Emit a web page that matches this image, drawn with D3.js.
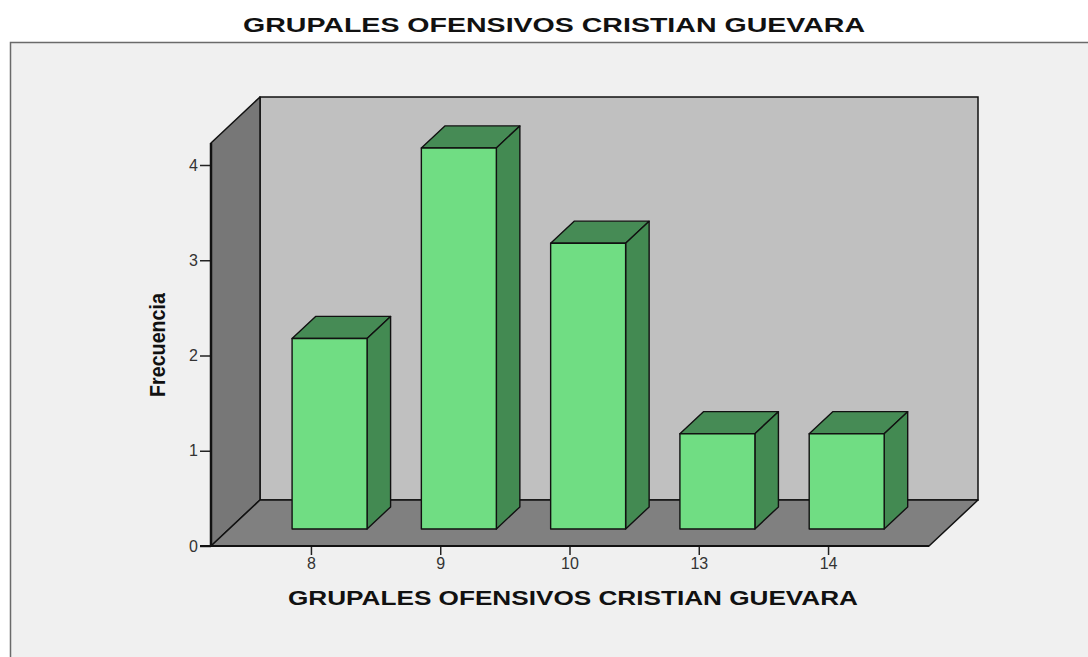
<!DOCTYPE html>
<html>
<head>
<meta charset="utf-8">
<script src="https://cdn.jsdelivr.net/npm/d3@7"></script>
<style>
  html, body { margin: 0; padding: 0; background: #ffffff; }
  svg { display: block; font-family: "Liberation Sans", Arial, sans-serif; }
</style>
</head>
<body>
<div id="chart"></div>
<script>
// datos del gráfico
const categories = ["8", "9", "10", "13", "14"];
const frecuencias = [2, 4, 3, 1, 1];
const yTicks = [0, 1, 2, 3, 4];
const chartTitle = "GRUPALES OFENSIVOS CRISTIAN GUEVARA";
const xTitle = "GRUPALES OFENSIVOS CRISTIAN GUEVARA";
const yTitle = "Frecuencia";

const width = 1088, height = 657;

// plano frontal del gráfico 3D
const front = { left: 211, right: 929, bottom: 546, top: 143 };
const depth = { dx: 49, dy: -46 }; // desplazamiento de la pared del fondo
const barZ0 = 0.37, barZ1 = 0.85;   // profundidad de las barras (fracción)

const svg = d3.select('#chart').append('svg')
  .attr('width', width)
  .attr('height', height)
  .attr('viewBox', `0 0 ${width} ${height}`);

// marco del panel
svg.append('rect')
  .attr('x', 10.5).attr('y', 42.5)
  .attr('width', 1200).attr('height', 800)
  .style('fill', '#f0f0f0')
  .style('stroke', '#6a6a6a')
  .style('stroke-width', 1.5);

// título
svg.append('text')
  .attr('x', 554).attr('y', 32)
  .attr('text-anchor', 'middle')
  .attr('textLength', 622)
  .attr('lengthAdjust', 'spacingAndGlyphs')
  .style('font-size', '21px')
  .style('font-weight', 'bold')
  .style('fill', '#111')
  .text(chartTitle);

const yScale = d3.scaleLinear()
  .domain([0, (front.bottom - front.top) / 95.25])
  .range([front.bottom, front.top]);

const xScale = d3.scaleBand()
  .domain(categories)
  .range([front.left, front.right])
  .paddingInner(0.42)
  .paddingOuter(0.487);

const off = (z) => [depth.dx * z, depth.dy * z];
const pts = (arr) => arr.map((p) => p.join(',')).join(' ');

const [bx, by] = off(1);
const y0 = yScale(0), yTop = yScale.range()[1];

// pared del fondo
svg.append('rect')
  .attr('x', front.left + bx).attr('y', yTop + by)
  .attr('width', front.right - front.left).attr('height', y0 - yTop)
  .style('fill', '#c0c0c0')
  .style('stroke', '#111')
  .style('stroke-width', 1.5);

// pared izquierda
svg.append('polygon')
  .attr('points', pts([
    [front.left, yTop], [front.left + bx, yTop + by],
    [front.left + bx, y0 + by], [front.left, y0]
  ]))
  .style('fill', '#777777')
  .style('stroke', '#111')
  .style('stroke-width', 1.5)
  .style('stroke-linejoin', 'round');

// suelo
svg.append('polygon')
  .attr('points', pts([
    [front.left, y0], [front.right, y0],
    [front.right + bx, y0 + by], [front.left + bx, y0 + by]
  ]))
  .style('fill', '#808080')
  .style('stroke', '#111')
  .style('stroke-width', 1.5)
  .style('stroke-linejoin', 'round');

// barras 3D
const [f0x, f0y] = off(barZ0);
const [f1x, f1y] = off(barZ1);
const bw = xScale.bandwidth();
const bars = svg.append('g').attr('class', 'bars')
  .selectAll('g')
  .data(categories.map((c, i) => ({ cat: c, value: frecuencias[i] })))
  .join('g')
  .style('stroke', '#111')
  .style('stroke-width', 1.4)
  .style('stroke-linejoin', 'round');

bars.append('polygon') // cara superior
  .attr('points', (d) => {
    const x = xScale(d.cat) + f0x, y = yScale(d.value) + f0y;
    const ddx = f1x - f0x, ddy = f1y - f0y;
    return pts([[x, y], [x + bw, y], [x + bw + ddx, y + ddy], [x + ddx, y + ddy]]);
  })
  .style('fill', '#468b55');

bars.append('polygon') // cara lateral
  .attr('points', (d) => {
    const x = xScale(d.cat) + f0x + bw, yt = yScale(d.value) + f0y, yb = y0 + f0y;
    const ddx = f1x - f0x, ddy = f1y - f0y;
    return pts([[x, yt], [x + ddx, yt + ddy], [x + ddx, yb + ddy], [x, yb]]);
  })
  .style('fill', '#438a52');

bars.append('rect') // cara frontal
  .attr('x', (d) => xScale(d.cat) + f0x)
  .attr('y', (d) => yScale(d.value) + f0y)
  .attr('width', bw)
  .attr('height', (d) => y0 - yScale(d.value))
  .style('fill', '#70dd83');

// eje Y
const yAxis = svg.append('g')
  .attr('transform', `translate(${front.left}, 0)`)
  .call(d3.axisLeft(yScale).tickValues(yTicks).tickFormat(d3.format('d'))
    .tickSize(11).tickSizeOuter(0).tickPadding(2));
yAxis.select('.domain').remove();
yAxis.selectAll('line').style('stroke', '#222').style('stroke-width', 1.5);
yAxis.selectAll('text')
  .style('font-size', '16px')
  .style('fill', '#333')
  .style('font-family', '"Liberation Sans", Arial, sans-serif');

svg.append('line')
  .attr('x1', front.left).attr('x2', front.left)
  .attr('y1', yTop).attr('y2', y0)
  .style('stroke', '#111').style('stroke-width', 2.5);

// eje X
const xAxis = svg.append('g')
  .attr('transform', `translate(0, ${y0})`)
  .call(d3.axisBottom(xScale).tickSize(9).tickSizeOuter(0).tickPadding(3));
xAxis.select('.domain').remove();
xAxis.selectAll('line').style('stroke', '#222').style('stroke-width', 1.5);
xAxis.selectAll('text')
  .style('font-size', '16px')
  .style('fill', '#333')
  .style('font-family', '"Liberation Sans", Arial, sans-serif');

svg.append('line')
  .attr('x1', front.left - 11).attr('x2', front.right)
  .attr('y1', y0).attr('y2', y0)
  .style('stroke', '#111').style('stroke-width', 2);

// títulos de los ejes
svg.append('text')
  .attr('x', 573).attr('y', 605)
  .attr('text-anchor', 'middle')
  .attr('textLength', 570)
  .attr('lengthAdjust', 'spacingAndGlyphs')
  .style('font-size', '21px')
  .style('font-weight', 'bold')
  .style('fill', '#111')
  .text(xTitle);

svg.append('text')
  .attr('transform', 'translate(165, 345) rotate(-90)')
  .attr('text-anchor', 'middle')
  .attr('textLength', 104)
  .attr('lengthAdjust', 'spacingAndGlyphs')
  .style('font-size', '22px')
  .style('font-weight', 'bold')
  .style('fill', '#111')
  .text(yTitle);
</script>
</body>
</html>
